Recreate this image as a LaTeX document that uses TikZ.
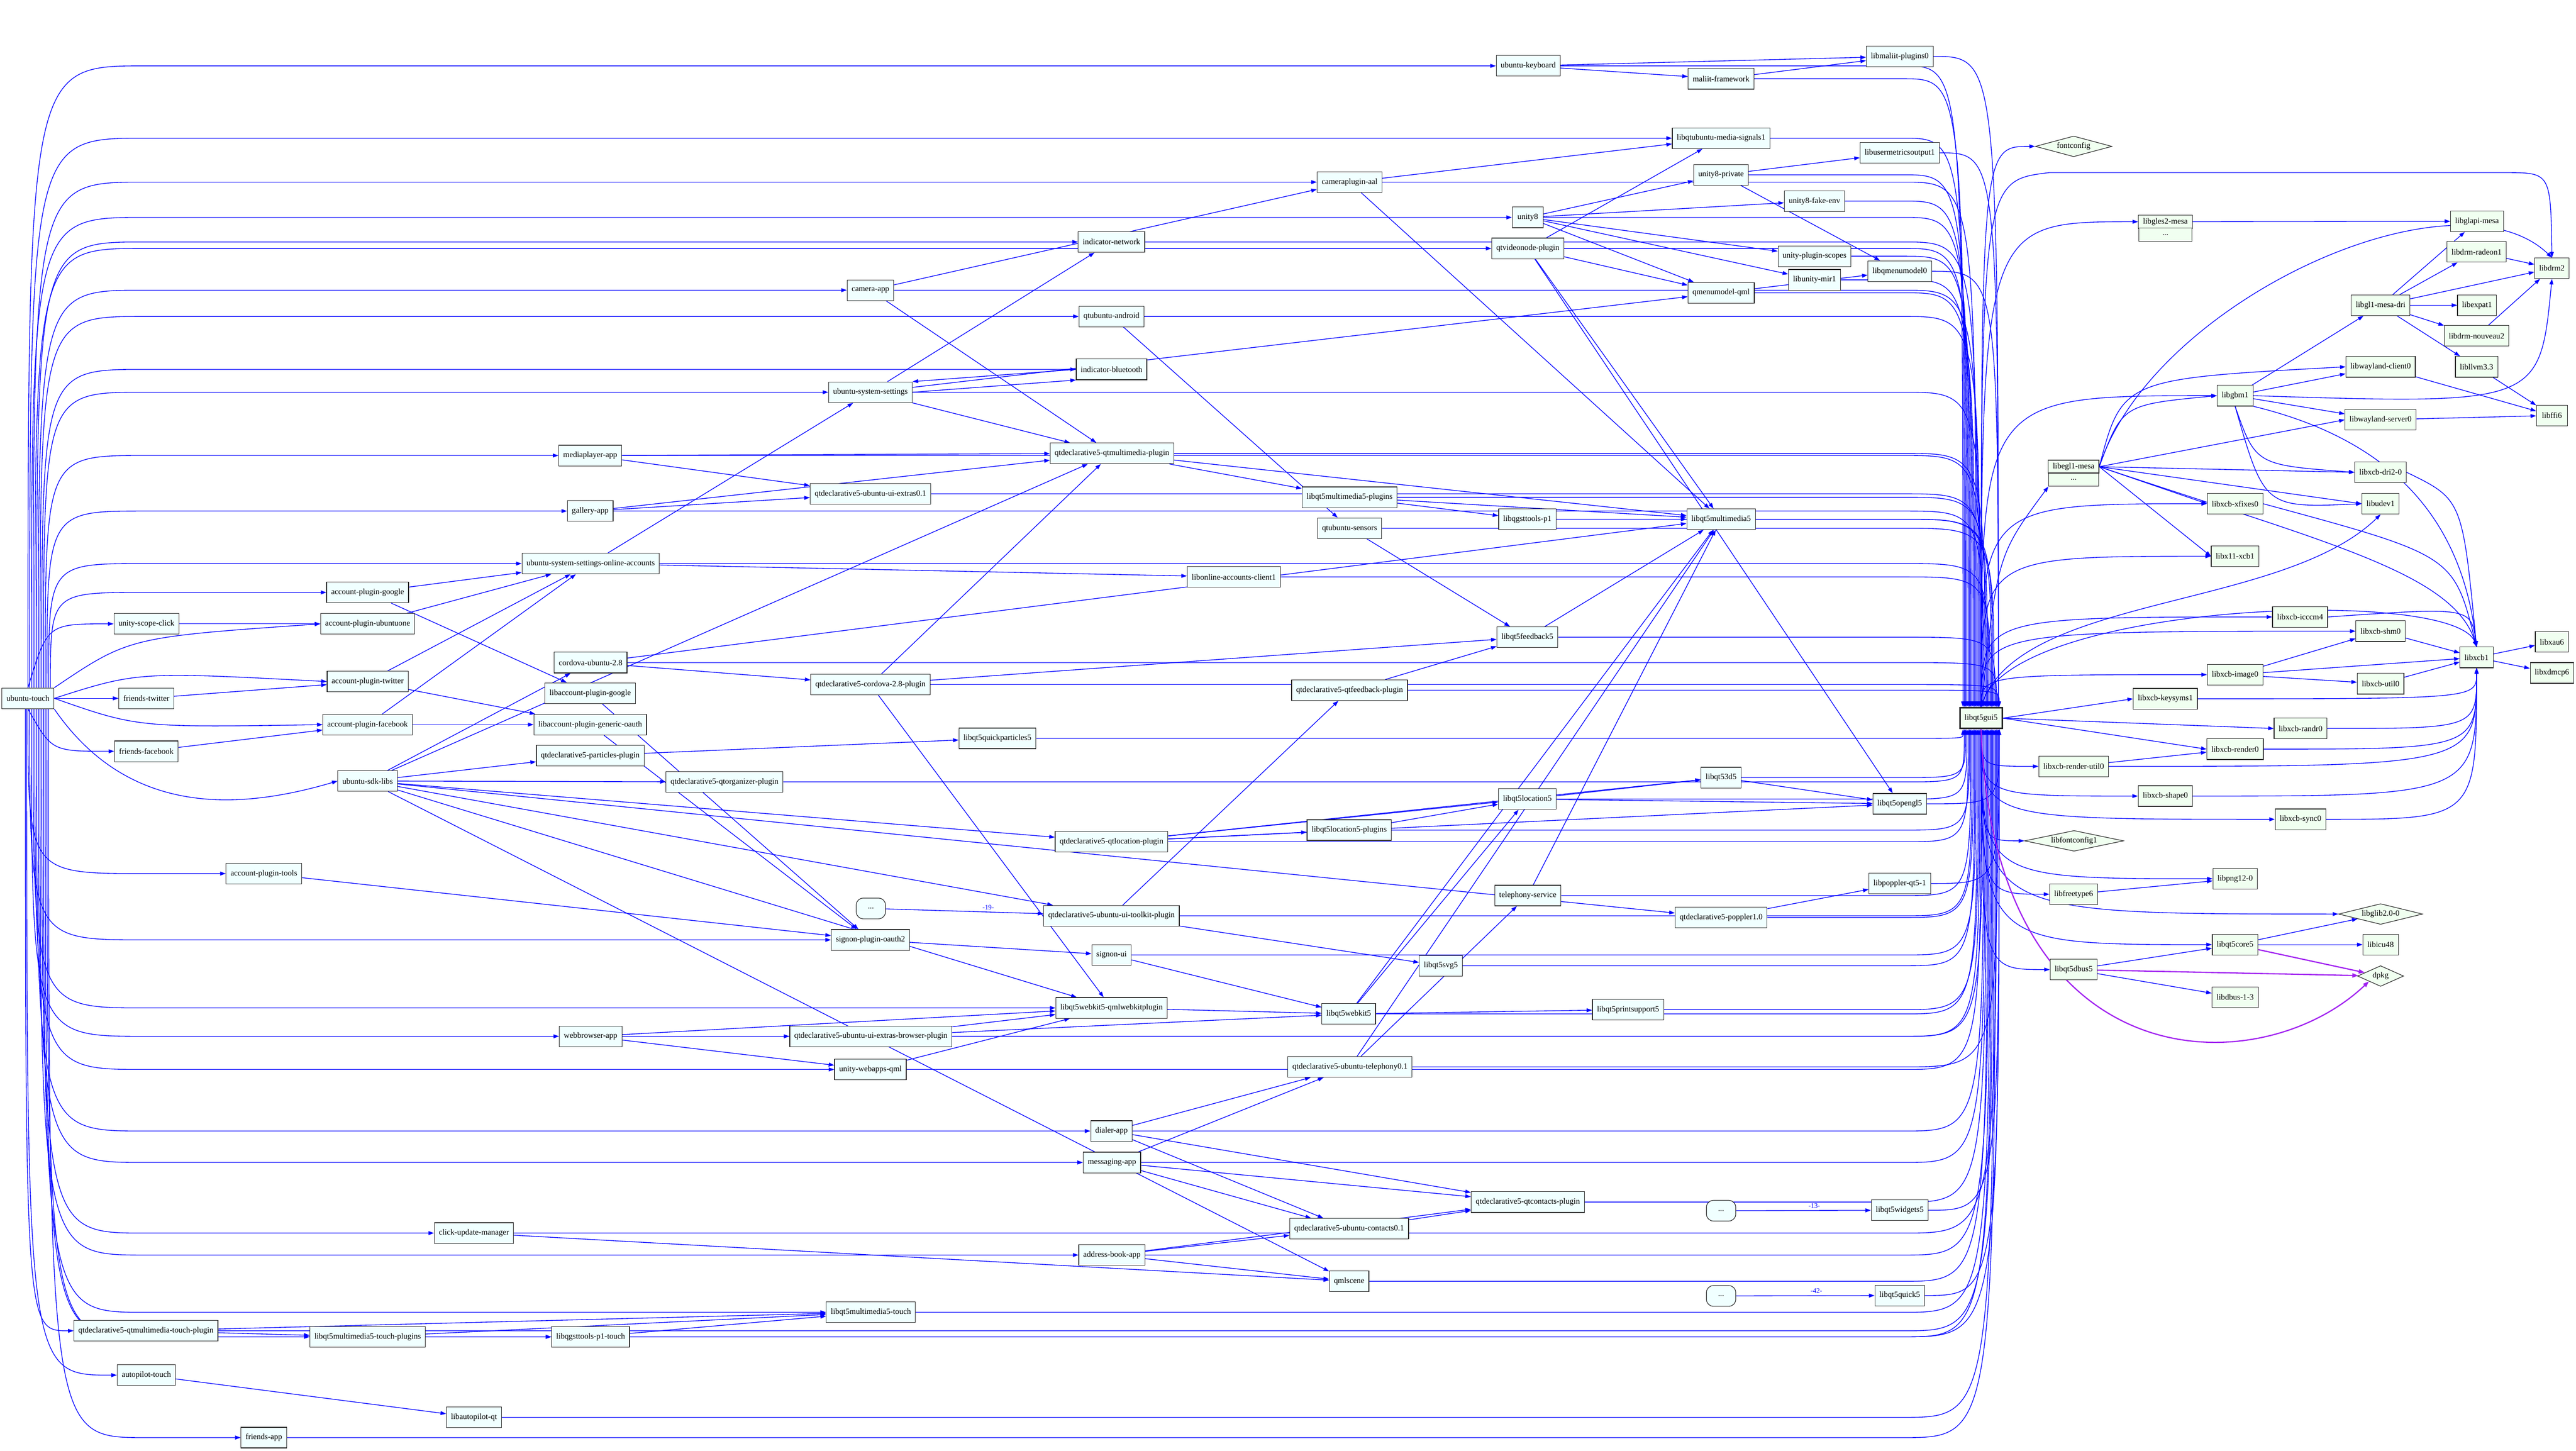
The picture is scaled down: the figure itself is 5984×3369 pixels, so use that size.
\documentclass[tikz,border=0pt]{standalone}
\usepackage{fontspec}
\setmainfont{Liberation Serif}
\usetikzlibrary{arrows.meta,calc,shapes.geometric,backgrounds}
\definecolor{appfill}{HTML}{F0FFFF}
\definecolor{libfill}{HTML}{F0FFF0}
\definecolor{depblue}{HTML}{0000FF}
\definecolor{dpkgcol}{HTML}{A020F0}
\newcommand{\pkgfont}{\fontsize{18.7}{22}\selectfont}
\newcommand{\cntfont}{\fontsize{16}{18}\selectfont}
\tikzset{
  pkg/.style={draw=black!85,fill=appfill,line width=1.4pt,minimum width=72pt,
    minimum height=48pt,inner xsep=10.5pt,inner ysep=5pt,font=\pkgfont},
  lib/.style={pkg,fill=libfill},
  virt/.style={diamond,aspect=4,draw=black!85,fill=libfill,line width=1.4pt,
    inner sep=0pt,minimum height=48pt,font=\pkgfont},
  elided/.style={pkg,rounded corners=16pt,minimum width=68pt},
  recrow/.style={lib,minimum height=30.5pt,inner ysep=2pt},
  dep/.style={depblue,line width=1.6pt,-{Triangle[length=13pt,width=9pt]}},
  pdep/.style={dep,draw=dpkgcol,line width=2.8pt,-{Triangle[length=14pt,width=10pt]}},
  cnt/.style={font=\cntfont,inner sep=1pt}
}

\begin{document}
\begin{tikzpicture}[x=1pt,y=-1pt]
  \useasboundingbox (0,0) rectangle (5984,3369);

  % packages of the image
  \node[pkg] (ut)    at (65,1622)   {ubuntu-touch};
  \node[pkg] (usc)   at (340,1449)  {unity-scope-click};
  \node[pkg] (ftw)   at (340,1622)  {friends-twitter};
  \node[pkg] (ffb)   at (340,1745)  {friends-facebook};
  \node[pkg] (qmtp)  at (339,3091)  {qtdeclarative5-qtmultimedia-touch-plugin};
  \node[pkg] (apt)   at (340,3194)  {autopilot-touch};
  \node[pkg] (apto)  at (613,2029)  {account-plugin-tools};
  \node[pkg] (fapp)  at (613,3339)  {friends-app};
  \node[pkg] (apg)   at (854,1376)  {account-plugin-google};
  \node[pkg] (apu)   at (854,1449)  {account-plugin-ubuntuone};
  \node[pkg] (aptw)  at (854,1583)  {account-plugin-twitter};
  \node[pkg] (apfb)  at (854,1683)  {account-plugin-facebook};
  \node[pkg] (sdk)   at (854,1814)  {ubuntu-sdk-libs};
  \node[pkg] (mtpl)  at (854,3105)  {libqt5multimedia5-touch-plugins};
  \node[pkg] (cum)   at (1101,2864) {click-update-manager};
  \node[pkg] (lapq)  at (1101,3292) {libautopilot-qt};
  \node[pkg] (mpa)   at (1371,1058) {mediaplayer-app};
  \node[pkg] (gal)   at (1371,1187) {gallery-app};
  \node[pkg] (ussoa) at (1372,1309) {ubuntu-system-settings-online-accounts};
  \node[pkg] (cord)  at (1372,1539) {cordova-ubuntu-2.8};
  \node[pkg] (lapg)  at (1371,1610) {libaccount-plugin-google};
  \node[pkg] (lapgo) at (1371,1683) {libaccount-plugin-generic-oauth};
  \node[pkg] (qpp)   at (1371,1755) {qtdeclarative5-particles-plugin};
  \node[pkg] (wba)   at (1372,2407) {webbrowser-app};
  \node[pkg] (gstt)  at (1372,3105) {libqgsttools-p1-touch};
  \node[pkg] (qorg)  at (1683,1816) {qtdeclarative5-qtorganizer-plugin};
  \node[pkg] (cam)   at (2022,674)  {camera-app};
  \node[pkg] (uss)   at (2022,911)  {ubuntu-system-settings};
  \node[pkg] (uiex)  at (2022,1147) {qtdeclarative5-ubuntu-ui-extras0.1};
  \node[pkg] (qcord) at (2022,1590) {qtdeclarative5-cordova-2.8-plugin};
  \node[elided] (dots19) at (2023,2110) {...};
  \node[pkg] (spo)   at (2022,2183) {signon-plugin-oauth2};
  \node[pkg] (brow)  at (2023,2407) {qtdeclarative5-ubuntu-ui-extras-browser-plugin};
  \node[pkg] (uwq)   at (2022,2484) {unity-webapps-qml};
  \node[pkg] (mmt)   at (2023,3048) {libqt5multimedia5-touch};
  \node[pkg] (qpart) at (2317,1715) {libqt5quickparticles5};
  \node[pkg] (inet)  at (2582,562)  {indicator-network};
  \node[pkg] (qua)   at (2582,735)  {qtubuntu-android};
  \node[pkg] (ibt)   at (2582,858)  {indicator-bluetooth};
  \node[pkg] (qmmp)  at (2583,1053) {qtdeclarative5-qtmultimedia-plugin};
  \node[pkg] (qloc)  at (2582,1955) {qtdeclarative5-qtlocation-plugin};
  \node[pkg] (uitk)  at (2582,2127) {qtdeclarative5-ubuntu-ui-toolkit-plugin};
  \node[pkg] (sui)   at (2582,2218) {signon-ui};
  \node[pkg] (qwkp)  at (2582,2341) {libqt5webkit5-qmlwebkitplugin};
  \node[pkg] (dial)  at (2582,2627) {dialer-app};
  \node[pkg] (msg)   at (2583,2700) {messaging-app};
  \node[pkg] (abook) at (2583,2915) {address-book-app};
  \node[pkg] (loac)  at (2866,1340) {libonline-accounts-client1};
  \node[pkg] (cpa)   at (3135,423)  {cameraplugin-aal};
  \node[pkg] (mmpl)  at (3135,1155) {libqt5multimedia5-plugins};
  \node[pkg] (qus)   at (3135,1227) {qtubuntu-sensors};
  \node[pkg] (qfbp)  at (3135,1603) {qtdeclarative5-qtfeedback-plugin};
  \node[pkg] (locpl) at (3134,1928) {libqt5location5-plugins};
  \node[pkg] (wk)    at (3133,2355) {libqt5webkit5};
  \node[pkg] (qtel)  at (3136,2478) {qtdeclarative5-ubuntu-telephony0.1};
  \node[pkg] (ucon)  at (3134,2854) {qtdeclarative5-ubuntu-contacts0.1};
  \node[pkg] (qmls)  at (3134,2976) {qmlscene};
  \node[pkg] (svg)   at (3347,2243) {libqt5svg5};
  \node[pkg] (ukb)   at (3550,153)  {ubuntu-keyboard};
  \node[pkg] (u8)    at (3549,505)  {unity8};
  \node[pkg] (qvn)   at (3549,577)  {qtvideonode-plugin};
  \node[pkg] (gst)   at (3548,1206) {libqgsttools-p1};
  \node[pkg] (fb)    at (3548,1480) {libqt5feedback5};
  \node[pkg] (loc)   at (3548,1856) {libqt5location5};
  \node[pkg] (tel)   at (3549,2080) {telephony-service};
  \node[pkg] (qcon)  at (3549,2792) {qtdeclarative5-qtcontacts-plugin};
  \node[pkg] (ps)    at (3782,2345) {libqt5printsupport5};
  \node[pkg] (mf)    at (3998,183)  {maliit-framework};
  \node[pkg] (qums)  at (3998,321)  {libqtubuntu-media-signals1};
  \node[pkg] (u8p)   at (3998,406)  {unity8-private};
  \node[pkg] (mmq)   at (3998,680)  {qmenumodel-qml};
  \node[pkg] (mm)    at (3998,1206) {libqt5multimedia5};
  \node[pkg] (q3d)   at (3998,1806) {libqt53d5};
  \node[pkg] (popp)  at (3998,2131) {qtdeclarative5-poppler1.0};
  \node[elided] (dots13) at (3998,2812) {...};
  \node[elided] (dots42) at (3998,3010) {...};
  \node[pkg] (u8fe)  at (4215,467)  {unity8-fake-env};
  \node[pkg] (ups)   at (4215,595)  {unity-plugin-scopes};
  \node[pkg] (umir)  at (4215,650)  {libunity-mir1};
  \node[pkg] (lmp)   at (4413,131)  {libmaliit-plugins0};
  \node[pkg] (umo)   at (4413,355)  {libusermetricsoutput1};
  \node[pkg] (qmm)   at (4413,630)  {libqmenumodel0};
  \node[pkg] (ogl)   at (4413,1867) {libqt5opengl5};
  \node[pkg] (lpop)  at (4413,2052) {libpoppler-qt5-1};
  \node[pkg] (wid)   at (4413,2811) {libqt5widgets5};
  \node[pkg] (quick) at (4413,3009) {libqt5quick5};

  % libraries under libqt5gui5
  \node[lib,line width=3.5pt] (gui) at (4602,1668) {libqt5gui5};
  \node[virt,minimum width=178pt] (fc) at (4817,340) {fontconfig};
  \node[recrow,minimum width=123pt] (gles)  at (5030,515) {libgles2-mesa};
  \node[recrow,minimum width=123pt] (glesx) at (5030,545) {...};
  \node[recrow,minimum width=116pt] (egl)   at (4817,1084) {libegl1-mesa};
  \node[recrow,minimum width=116pt] (eglx)  at (4817,1114) {...};
  \node[lib] (glapi)  at (5754,514)  {libglapi-mesa};
  \node[lib] (radeon) at (5753,585)  {libdrm-radeon1};
  \node[lib] (drm)    at (5928,623)  {libdrm2};
  \node[lib] (dri)    at (5530,709)  {libgl1-mesa-dri};
  \node[lib] (expat)  at (5754,709)  {libexpat1};
  \node[lib] (nouv)   at (5753,780)  {libdrm-nouveau2};
  \node[lib] (llvm)   at (5753,852)  {libllvm3.3};
  \node[lib] (wcl)    at (5530,852)  {libwayland-client0};
  \node[lib] (gbm)    at (5192,919)  {libgbm1};
  \node[lib] (ffi)    at (5928,965)  {libffi6};
  \node[lib] (wsv)    at (5530,975)  {libwayland-server0};
  \node[lib] (dri2)   at (5530,1097) {libxcb-dri2-0};
  \node[lib] (xfix)   at (5192,1170) {libxcb-xfixes0};
  \node[lib] (udev)   at (5530,1170) {libudev1};
  \node[lib] (x11)    at (5192,1292) {libx11-xcb1};
  \node[lib] (icccm)  at (5343,1433) {libxcb-icccm4};
  \node[lib] (shm)    at (5530,1466) {libxcb-shm0};
  \node[lib] (xau)    at (5928,1491) {libxau6};
  \node[lib] (xcb)    at (5753,1527) {libxcb1};
  \node[lib] (xdmcp)  at (5928,1563) {libxdmcp6};
  \node[lib] (img)    at (5192,1567) {libxcb-image0};
  \node[lib] (util)   at (5530,1588) {libxcb-util0};
  \node[lib] (keys)   at (5030,1623) {libxcb-keysyms1};
  \node[lib] (randr)  at (5344,1692) {libxcb-randr0};
  \node[lib] (rend)   at (5192,1740) {libxcb-render0};
  \node[lib] (rutil)  at (4817,1780) {libxcb-render-util0};
  \node[lib] (shape)  at (5030,1849) {libxcb-shape0};
  \node[lib] (sync)   at (5344,1903) {libxcb-sync0};
  \node[virt,minimum width=230pt] (lfc) at (4818,1953) {libfontconfig1};
  \node[lib] (png)    at (5192,2041) {libpng12-0};
  \node[lib] (ft)     at (4817,2077) {libfreetype6};
  \node[virt,minimum width=195pt] (glib) at (5530,2123) {libglib2.0-0};
  \node[lib] (core)   at (5192,2194) {libqt5core5};
  \node[lib] (icu)    at (5530,2194) {libicu48};
  \node[lib] (dbus)   at (4817,2252) {libqt5dbus5};
  \node[virt,minimum width=107pt] (dpkg) at (5530,2267) {dpkg};
  \node[lib] (dbus1)  at (5192,2316) {libdbus-1-3};

  \begin{scope}[on background layer]
    \fill[white] (0,0) rectangle (5984,3369);

    % ubuntu-touch fans out
    \foreach \t [count=\i] in {ukb,qums,u8,cpa,qvn,inet,cam,qua,ibt,uss,mpa,gal,ussoa,apg}
      \draw[dep] ($(ut.north)+(4*\i-4,0)$) .. controls ($(ut.north |- \t.west)+(4*\i-4,0)$) .. ($(ut.north |- \t.west)+(270,0)$) -- (\t.west);
    \foreach \t [count=\i] in {apto,spo,wba,qwkp,uwq,dial,msg,abook,cum,mmt,mtpl,gstt,fapp}
      \draw[dep] ($(ut.south)+(4*\i-4,0)$) .. controls ($(ut.south |- \t.west)+(4*\i-4,0)$) .. ($(ut.south |- \t.west)+(270,0)$) -- (\t.west);
    \draw[dep] ($(ut.south)+(-6,0)$) .. controls ($(ut.south |- qmtp.west)+(-6,0)$) .. (qmtp.west);
    \draw[dep] ($(ut.south)+(-3,0)$) .. controls ($(ut.south |- apt.west)+(-3,0)$) .. (apt.west);
    \draw[dep] (ut.north) .. controls (110,1449) .. (usc.west);
    \draw[dep] (ut.north east) .. controls (300,1480) .. (apu.west);
    \draw[dep] (ut.east) .. controls (320,1560) .. (aptw.west);
    \draw[dep] (ut) -- (ftw);
    \draw[dep] (ut.east) .. controls (320,1690) .. (apfb.west);
    \draw[dep] (ut.south) .. controls (120,1745) .. (ffb.west);
    \draw[dep] (ut.south east) .. controls (300,1900) and (560,1880) .. (sdk.west);

    % accounts
    \draw[dep] (usc) -- (apu);
    \draw[dep] (ftw) -- (aptw);
    \draw[dep] (ffb) -- (apfb);
    \foreach \s in {apg,apu,aptw,apfb}
      \draw[dep] (\s) -- (ussoa);
    \draw[dep] (apg) -- (lapg);
    \draw[dep] (aptw) -- (lapgo);
    \draw[dep] (apfb) -- (lapgo);
    \draw[dep] (lapg) -- (spo);
    \draw[dep] (lapgo) -- (spo);
    \draw[dep] (apto) -- (spo);
    \draw[dep] (spo) -- (sui);
    \draw[dep] (sui) -- (wk);
    \draw[dep] (ussoa) -- (uss);
    \draw[dep] (ussoa) -- (loac);

    % sdk
    \foreach \t in {cord,qmmp,qpp,qorg,qloc,popp,uitk,qwkp,qmls}
      \draw[dep] (sdk) -- (\t);
    \draw[dep] (cord) -- (qcord);
    \draw[dep] (cord) -- (mm);
    \draw[dep] (qcord) -- (qmmp);
    \draw[dep] (qcord) -- (fb);
    \draw[dep] (qcord) -- (qwkp);
    \draw[dep] (qpp) -- (qpart);

    % apps in the middle
    \draw[dep] (cam) -- (cpa);
    \draw[dep] (cam) -- (qmmp);
    \draw[dep] (uss) -- (inet);
    \draw[dep] (uss.east) -- (ibt.south west);
    \draw[dep] (ibt.west) -- (uss.north east);
    \draw[dep] (uss) -- (qmmp);
    \draw[dep] (uss) -- (mmq);
    \draw[dep] (qua) -- (qus);
    \draw[dep] (mpa) -- (qmmp);
    \draw[dep] (mpa) -- (uiex);
    \draw[dep] (gal) -- (qmmp);
    \draw[dep] (gal) -- (uiex);
    \draw[dep] (qmmp) -- (mmpl);
    \draw[dep] (qmmp) -- (mm);
    \draw[dep] (mmpl) -- (gst);
    \draw[dep] (mmpl) -- (mm);
    \draw[dep] (gst) -- (mm);
    \draw[dep] (qus) -- (fb);
    \draw[dep] (qfbp) -- (fb);
    \draw[dep] (fb) -- (mm);

    % keyboard and shell
    \draw[dep] (ukb) -- (mf);
    \draw[dep] (ukb) -- (lmp);
    \draw[dep] (mf) -- (lmp);
    \draw[dep] (cpa) -- (qums);
    \draw[dep] (cpa) -- (mm);
    \draw[dep] (u8) -- (u8p);
    \draw[dep] (u8) -- (u8fe);
    \draw[dep] (u8) -- (ups);
    \draw[dep] (u8) -- (umir);
    \draw[dep] (u8) -- (mmq);
    \draw[dep] (u8p) -- (umo);
    \draw[dep] (u8p) -- (qmm);
    \draw[dep] (mmq) -- (qmm);
    \draw[dep] (qvn) -- (qums);
    \draw[dep] (qvn) -- (mmq);
    \draw[dep] (qvn) -- (mm);
    \draw[dep] (qvn) -- (ogl);

    % location, webkit, telephony
    \draw[dep] (qloc) -- (loc);
    \draw[dep] (qloc) -- (locpl);
    \draw[dep] (qloc) -- (q3d);
    \draw[dep] (qloc) -- (ogl);
    \draw[dep] (locpl) -- (loc);
    \draw[dep] (loc) -- (q3d);
    \draw[dep] (loc) -- (ogl);
    \draw[dep] (q3d) -- (ogl);
    \draw[dep] (dots19) -- node[cnt,above=4pt,pos=0.65] {-19-} (uitk);
    \draw[dep] (uitk) -- (svg);
    \draw[dep] (uitk) -- (qfbp);
    \draw[dep] (qwkp) -- (wk);
    \draw[dep] (wba) -- (brow);
    \draw[dep] (wba) -- (uwq);
    \draw[dep] (wba) -- (qwkp);
    \draw[dep] (brow) -- (qwkp);
    \draw[dep] (brow) -- (wk);
    \draw[dep] (uwq) -- (qwkp);
    \draw[dep] (wk) -- (loc);
    \draw[dep] (wk) -- (mm);
    \draw[dep] (wk) -- (ps);
    \draw[dep] (qtel) -- (tel);
    \draw[dep] (qtel) -- (mm);
    \draw[dep] (tel) -- (mm);
    \draw[dep] (popp) -- (lpop);
    \foreach \s in {dial,msg}
      \draw[dep] (\s) -- (qtel);
    \foreach \s in {dial,msg,abook}
      \draw[dep] (\s) -- (qcon);
    \foreach \s in {dial,msg,abook}
      \draw[dep] (\s) -- (ucon);
    \draw[dep] (ucon) -- (qcon);
    \draw[dep] (abook) -- (qmls);
    \draw[dep] (cum) -- (qmls);
    \draw[dep] (dots13) -- node[cnt,above=4pt,pos=0.58] {-13-} (wid);
    \draw[dep] (dots42) -- node[cnt,above=4pt,pos=0.58] {-42-} (quick);

    % touch multimedia
    \draw[dep] (qmtp) -- (mmt);
    \draw[dep] (qmtp) -- (mtpl);
    \draw[dep] (mtpl) -- (gstt);
    \draw[dep] (mtpl) -- (mmt);
    \draw[dep] (gstt) -- (mmt);
    \draw[dep] (apt) -- (lapq);

    % everything into libqt5gui5
    \foreach \s [count=\i] in {ukb,mf,qums,u8p,u8fe,u8,qvn,ups,umir,mmq,cpa,inet,cam,qua,uss,mpa,gal,
                    qmmp,uiex,mmpl,ussoa,loac,mm,gst,qus,fb,cord,qcord,qfbp}
      \draw[dep] (\s.east) -- ($(\s.east -| gui.north)+(-180,0)$) .. controls ($(\s.east -| gui.north)+(3*\i-45,0)$) .. ($(gui.north)+(3*\i-45,0)$);
    \foreach \s [count=\i] in {qpart,qorg,q3d,loc,qloc,locpl,tel,uitk,popp,svg,sui,wk,ps,brow,uwq,wba,
                    dial,msg,qcon,qmls,abook,mmt,gstt,qmtp,lapq,fapp,cum,qtel,mtpl}
      \draw[dep] (\s.east) -- ($(\s.east -| gui.south)+(-180,0)$) .. controls ($(\s.east -| gui.south)+(3*\i-45,0)$) .. ($(gui.south)+(3*\i-45,0)$);
    \foreach \s in {lmp,umo,qmm}
      \draw[dep] (\s.east) .. controls ($(\s.east -| gui.north)+(40,0)$) .. ($(gui.north)+(40,0)$);
    \foreach \s in {ogl,lpop,wid,quick}
      \draw[dep] (\s.east) .. controls ($(\s.east -| gui.south)+(42,0)$) .. ($(gui.south)+(42,0)$);

    % libqt5gui5 and below
    \foreach \t in {fc,gles,gbm,xfix,x11,icccm,shm,img}
      \draw[dep] (gui.north) .. controls (gui.north |- \t.west) .. (\t.west);
    \foreach \t in {rutil,shape,sync,lfc,png,ft,glib,core,dbus}
      \draw[dep] (gui.south) .. controls (gui.south |- \t.west) .. (\t.west);
    \draw[dep] (gui.north) .. controls (4602,420) .. (4760,401) -- (5820,401) .. controls (5925,401) .. (drm.north);
    \draw[dep] (gui.north) .. controls (4640,1290) .. (eglx.south west);
    \draw[dep] (gui.north) .. controls (4680,1380) and (5300,1420) .. (udev.south);
    \draw[dep] (gui.north) .. controls (4650,1400) and (5700,1360) .. (xcb.north);
    \draw[dep] (gui.east) -- (keys.west);
    \draw[dep] (gui.east) -- (randr.west);
    \draw[dep] (gui.east) -- (rend.west);
    \draw[pdep] (gui.south) .. controls (4630,2520) and (5250,2520) .. (dpkg.south west);

    \draw[dep] (gles) -- (glapi);
    \draw[dep] (egl.east) .. controls (5000,700) and (5700,380) .. (drm.north);
    \draw[dep] (egl.east) .. controls (4930,880) .. (wcl.west);
    \draw[dep] (egl.east) .. controls (4930,940) .. (gbm.west);
    \foreach \t in {wsv,dri2,udev,xfix,x11}
      \draw[dep] (egl.east) -- (\t.west);
    \draw[dep] (egl.east) .. controls (5400,1260) and (5700,1330) .. (xcb.north);
    \foreach \t in {dri,wcl,wsv}
      \draw[dep] (gbm) -- (\t);
    \draw[dep] (gbm.east) .. controls (5900,940) .. (drm.south);
    \draw[dep] (gbm.south) .. controls (5240,1080) .. (dri2.west);
    \draw[dep] (gbm.south) .. controls (5260,1180) .. (udev.west);
    \draw[dep] (gbm.south east) .. controls (5550,1020) and (5720,1200) .. (xcb.north);
    \foreach \t in {glapi,radeon,drm,expat,nouv,llvm}
      \draw[dep] (dri) -- (\t);
    \draw[dep] (radeon) -- (drm);
    \draw[dep] (nouv) -- (drm);
    \foreach \s in {llvm,wcl,wsv}
      \draw[dep] (\s) -- (ffi);
    \draw[dep] (dri2.east) .. controls (5720,1160) .. (xcb.north);
    \draw[dep] (xfix.east) .. controls (5700,1290) .. (xcb.north);
    \draw[dep] (icccm.east) .. controls (5740,1410) .. (xcb.north);
    \foreach \s in {shm,img,util}
      \draw[dep] (\s) -- (xcb);
    \draw[dep] (img) -- (shm);
    \draw[dep] (img) -- (util);
    \foreach \s in {keys,randr,rend,rutil,shape,sync}
      \draw[dep] (\s.east) .. controls (\s.east -| xcb.south) .. (xcb.south);
    \draw[dep] (rutil) -- (rend);
    \draw[dep] (xcb) -- (xau);
    \draw[dep] (xcb) -- (xdmcp);
    \draw[dep] (ft) -- (png);
    \draw[dep] (core) -- (glib);
    \draw[dep] (core) -- (icu);
    \draw[dep] (dbus) -- (core);
    \draw[dep] (dbus) -- (dbus1);
    \draw[pdep] (core) -- (dpkg);
    \draw[pdep] (dbus) -- (dpkg);
  \end{scope}
\end{tikzpicture}
\end{document}
